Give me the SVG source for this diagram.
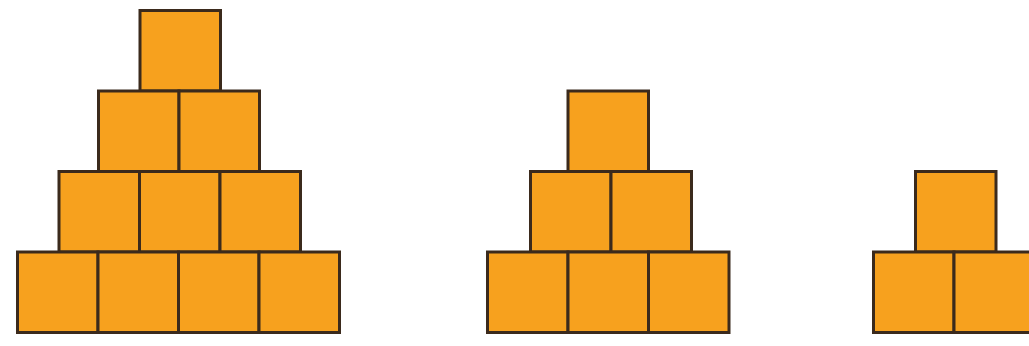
<svg xmlns="http://www.w3.org/2000/svg" width="1029" height="346" viewBox="0 0 1029 346">
<style>
.b{fill:#F7A11E;stroke:#3B2A1C;stroke-width:3}
</style>
<rect width="1029" height="346" fill="#FFFFFF"/>
<g id="pyramid-4">
<rect class="b" x="140" y="10.5" width="80.5" height="80.5"/>
<rect class="b" x="98.5" y="91" width="80.5" height="80.5"/>
<rect class="b" x="179" y="91" width="80.5" height="80.5"/>
<rect class="b" x="59" y="171.5" width="80.5" height="80.5"/>
<rect class="b" x="139.5" y="171.5" width="80.5" height="80.5"/>
<rect class="b" x="220" y="171.5" width="80.5" height="80.5"/>
<rect class="b" x="17.5" y="252" width="80.5" height="80.5"/>
<rect class="b" x="98" y="252" width="80.5" height="80.5"/>
<rect class="b" x="178.5" y="252" width="80.5" height="80.5"/>
<rect class="b" x="259" y="252" width="80.5" height="80.5"/>
</g>
<g id="pyramid-3">
<rect class="b" x="568" y="91" width="80.5" height="80.5"/>
<rect class="b" x="530.5" y="171.5" width="80.5" height="80.5"/>
<rect class="b" x="611" y="171.5" width="80.5" height="80.5"/>
<rect class="b" x="487.5" y="252" width="80.5" height="80.5"/>
<rect class="b" x="568" y="252" width="80.5" height="80.5"/>
<rect class="b" x="648.5" y="252" width="80.5" height="80.5"/>
</g>
<g id="pyramid-2">
<rect class="b" x="915.5" y="171.5" width="80.5" height="80.5"/>
<rect class="b" x="873.5" y="252" width="80.5" height="80.5"/>
<rect class="b" x="954" y="252" width="80.5" height="80.5"/>
</g>
</svg>
